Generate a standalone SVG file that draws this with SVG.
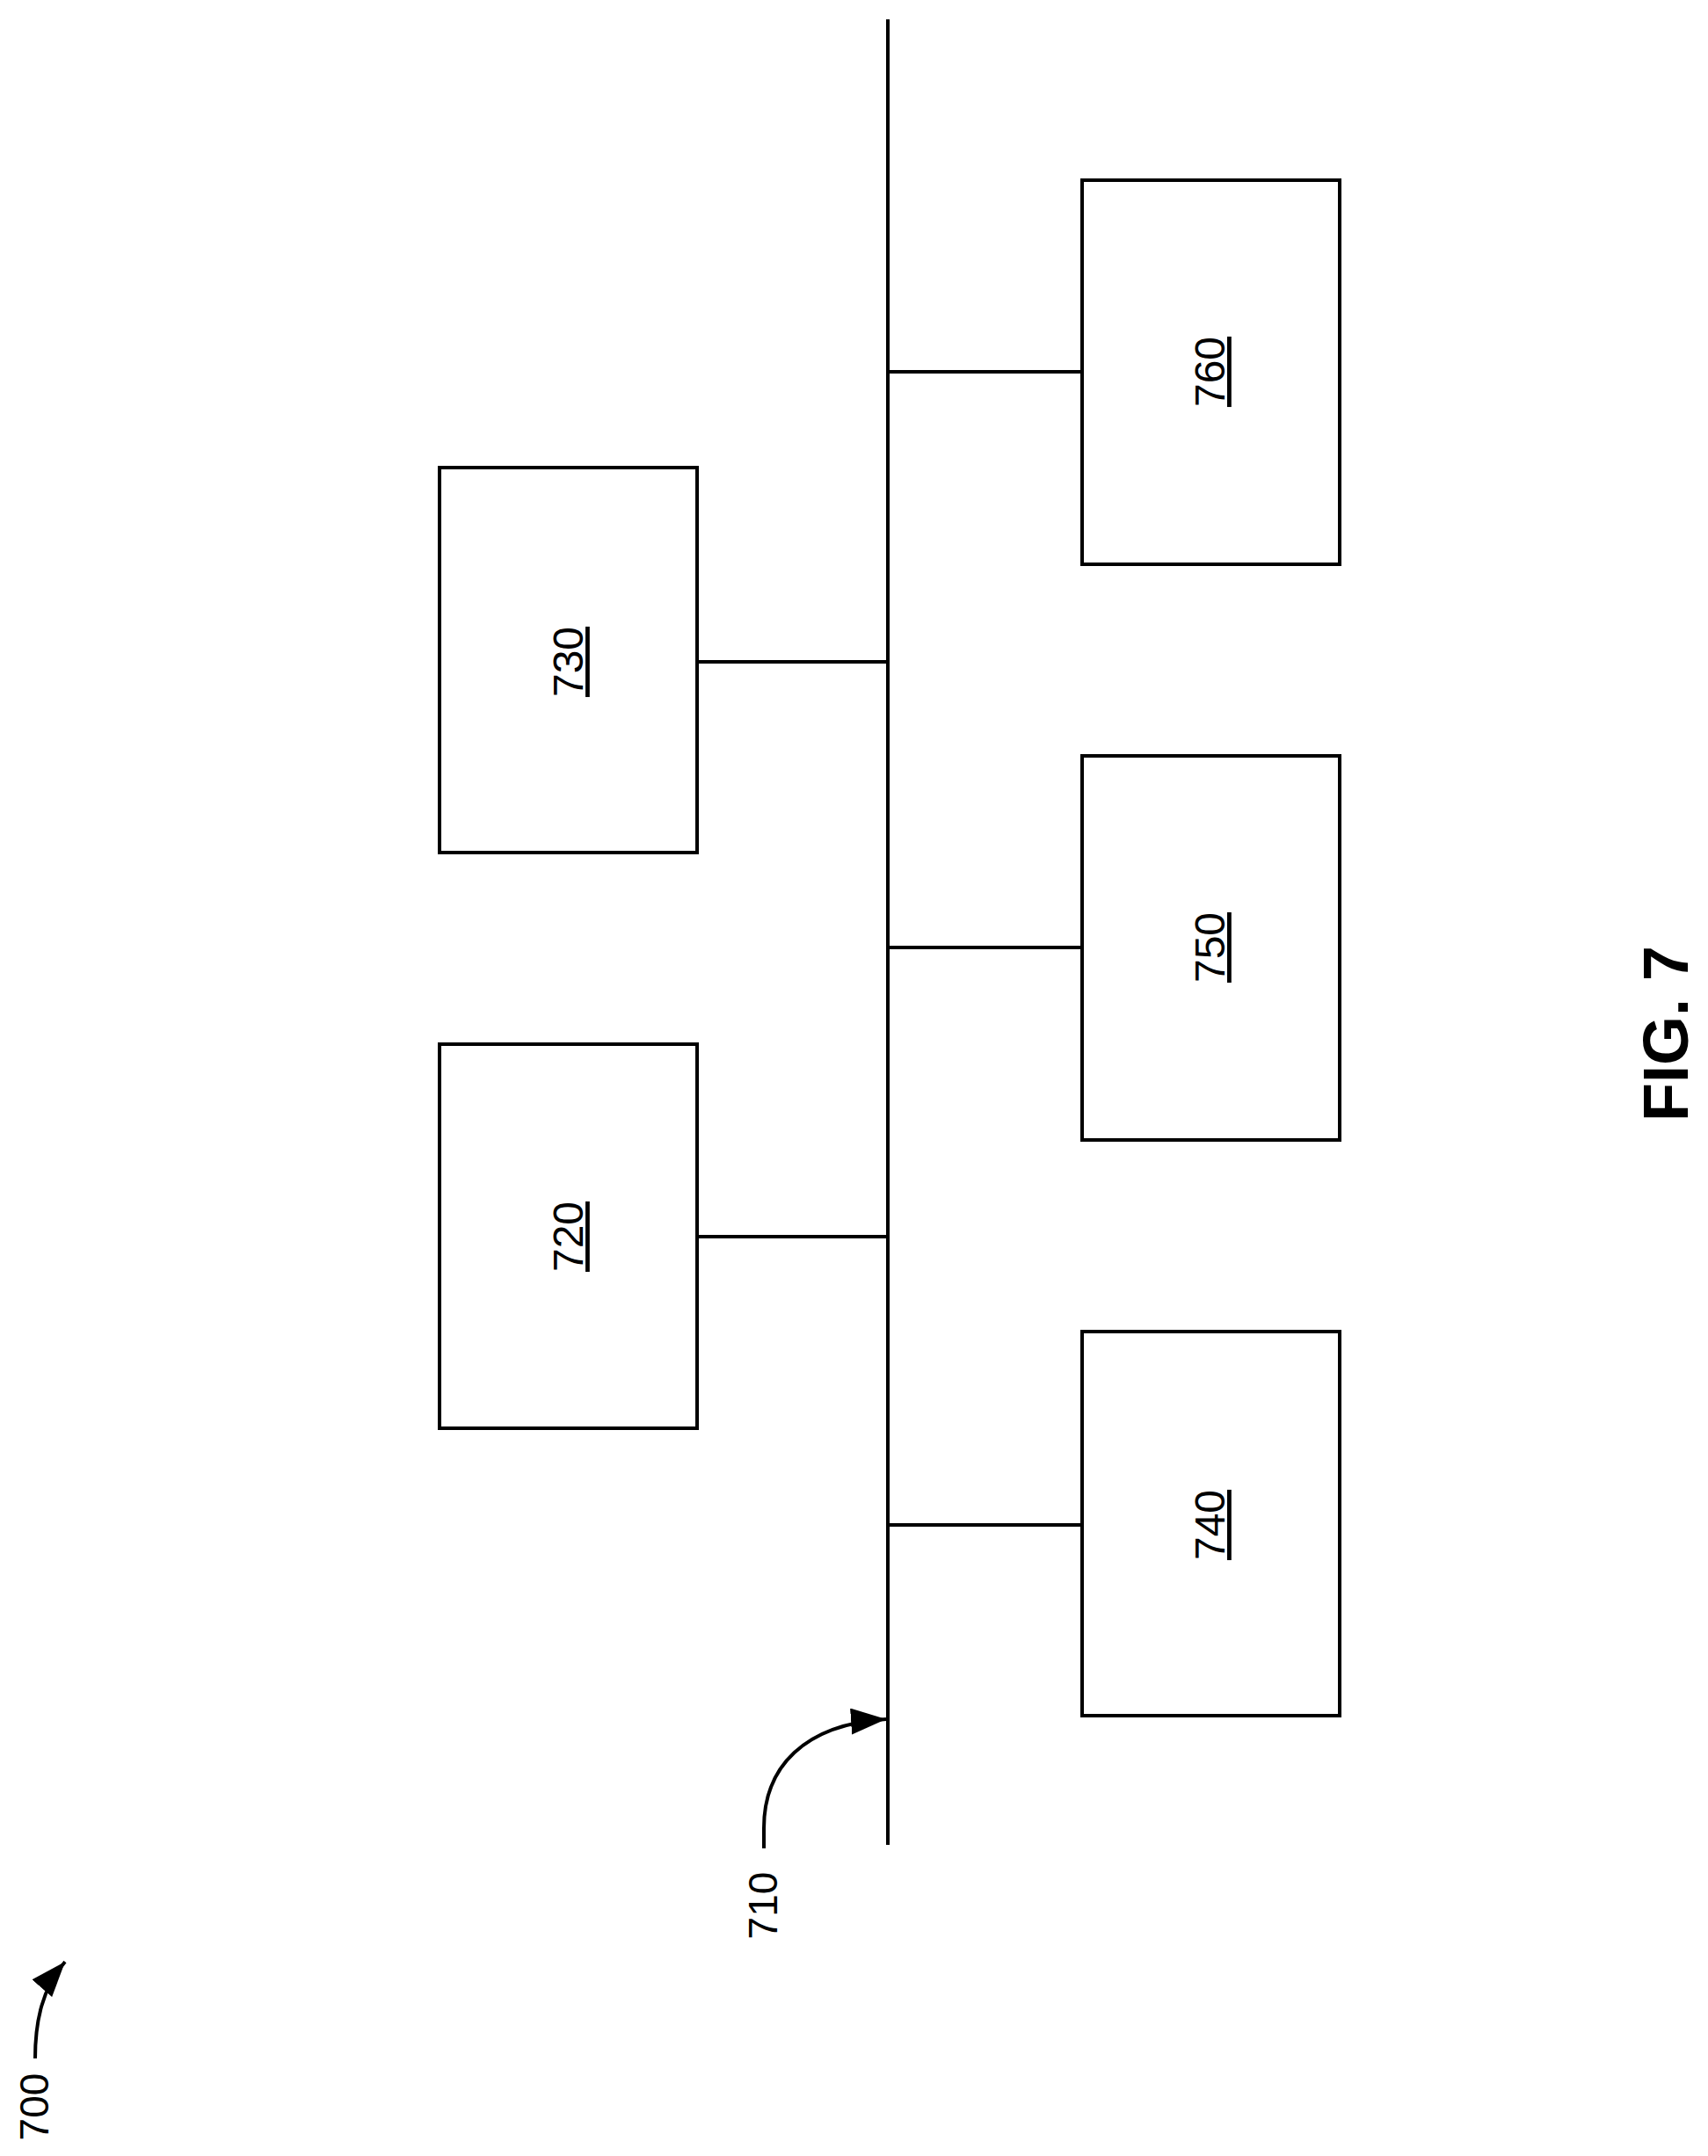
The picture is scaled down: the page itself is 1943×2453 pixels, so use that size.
<svg xmlns="http://www.w3.org/2000/svg" width="1943" height="2453" viewBox="0 0 1943 2453">
<style>
.box{fill:#fff;stroke:#000;stroke-width:4}
.ln{fill:none;stroke:#000;stroke-width:4}
.lbl{font-family:"Liberation Sans",Arial,sans-serif;font-size:48px;text-anchor:middle;text-decoration:underline}
.ref{font-family:"Liberation Sans",Arial,sans-serif;font-size:46px;text-anchor:middle}
</style>
<defs>
<marker id="ah" markerWidth="10" markerHeight="8" refX="10" refY="4" orient="auto" markerUnits="userSpaceOnUse" viewBox="0 0 10 8">
<path d="M0,0 L10,4 L0,8 Z" fill="#000"/>
</marker>
<marker id="ahb" viewBox="0 0 40 30" refX="40" refY="15" markerWidth="40" markerHeight="30" orient="auto" markerUnits="userSpaceOnUse">
<path d="M0,0 L40,15 L0,30 Z" fill="#000"/>
</marker>
</defs>
<g id="connectors">
<line class="ln" x1="1010" y1="22" x2="1010" y2="2099"/>
<line class="ln" x1="1010" y1="423" x2="1231" y2="423"/>
<line class="ln" x1="793" y1="753" x2="1010" y2="753"/>
<line class="ln" x1="1010" y1="1078" x2="1231" y2="1078"/>
<line class="ln" x1="793" y1="1407" x2="1010" y2="1407"/>
<line class="ln" x1="1010" y1="1735" x2="1231" y2="1735"/>
<path class="ln" d="M869,2103 L869,2080 C869,2010 915,1962 1008,1956" marker-end="url(#ahb)"/>
<path class="ln" d="M40,2342 C40,2300 48,2262 74,2232" marker-end="url(#ahb)"/>
</g>
<g id="n760"><rect class="box" x="1231" y="205" width="293" height="437"/><text class="lbl" transform="translate(1393,423) rotate(-90)">760</text></g>
<g id="n730"><rect class="box" x="500" y="532" width="293" height="438"/><text class="lbl" transform="translate(663,753) rotate(-90)">730</text></g>
<g id="n750"><rect class="box" x="1231" y="860" width="293" height="437"/><text class="lbl" transform="translate(1393,1078) rotate(-90)">750</text></g>
<g id="n720"><rect class="box" x="500" y="1188" width="293" height="437"/><text class="lbl" transform="translate(663,1407) rotate(-90)">720</text></g>
<g id="n740"><rect class="box" x="1231" y="1515" width="293" height="437"/><text class="lbl" transform="translate(1393,1735) rotate(-90)">740</text></g>
<g id="n710"><text class="ref" transform="translate(884,2168) rotate(-90)">710</text></g>
<g id="n700"><text class="ref" transform="translate(55,2397) rotate(-90)">700</text></g>
<g id="fig"><text transform="translate(1920,1176) rotate(-90)" style="font-family:'Liberation Sans',Arial,sans-serif;font-weight:bold;font-size:72px;text-anchor:middle">FIG. 7</text></g>
</svg>
